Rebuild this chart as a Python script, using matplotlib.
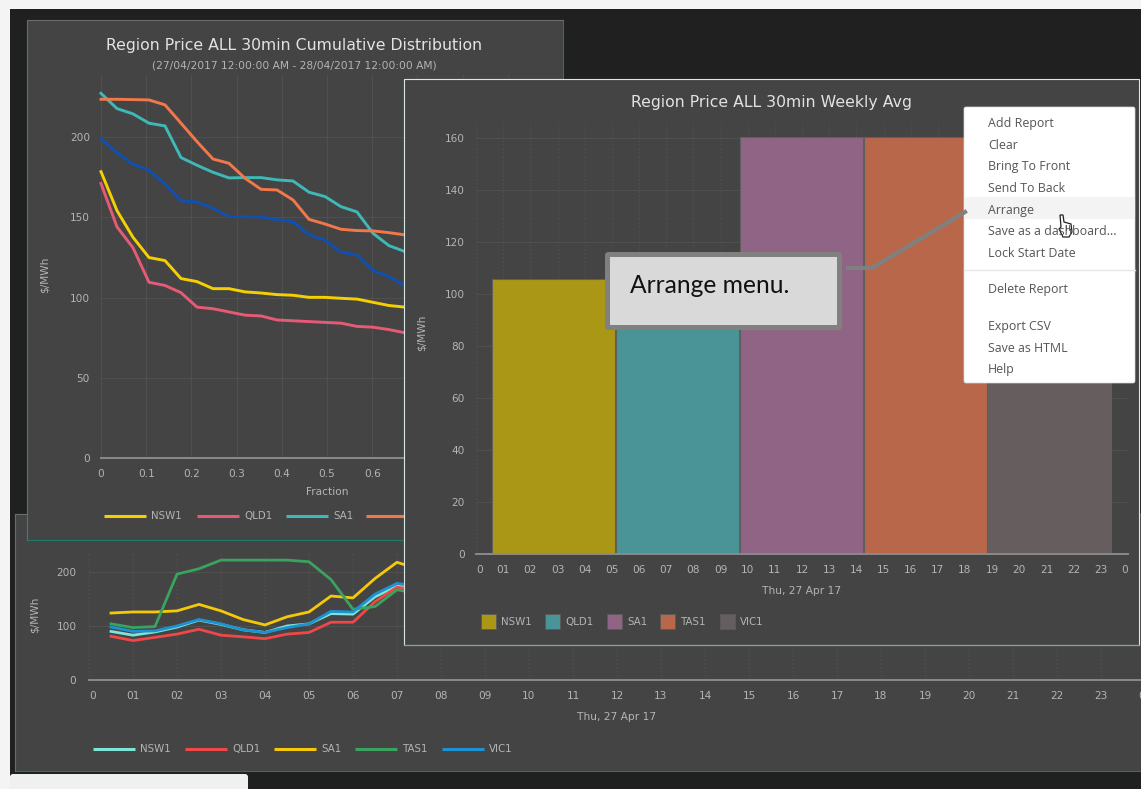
import matplotlib
matplotlib.use("Agg")
import matplotlib.pyplot as plt
from matplotlib.patches import Rectangle, FancyBboxPatch, Polygon

W, H = 1141, 789
PANEL = "#444444"
GRID = "#505050"
TICK = "#b4b4b4"
AXIS = "#8a8a8a"
TITLE = "#e2e2e2"
FONT = "DejaVu Sans"
plt.rcParams["font.family"] = FONT

# ---- cumulative distribution (panel 1)
frac_step = 0.0354
cd_nsw = [178.4, 154.1, 137.5, 124.9, 123, 111.8, 109.9, 105.5, 105.5, 103.5, 102.8, 101.8, 101.4, 100.1, 100.1, 99.5, 99, 97, 95, 94]
cd_qld = [171, 144, 131, 109.5, 107.5, 103, 94, 93, 91, 89, 88.5, 86, 85.5, 85, 84.5, 84, 82, 81.5, 80, 78]
cd_sa = [227.2, 217.7, 214.4, 208.6, 206.9, 187.2, 182.4, 178, 174.5, 174.7, 174.7, 173.3, 172.6, 165.6, 162.9, 156.6, 153.3, 140, 132.3, 128.6]
cd_tas = [223.5, 223.5, 223.3, 223.1, 220, 208.6, 197.1, 186.3, 183.6, 174.3, 167.4, 167, 160.8, 148.7, 145.8, 142.5, 141.7, 141.5, 140.4, 139]
cd_vic = [199, 190.3, 183, 179.3, 170.6, 160.2, 159.5, 155.6, 150.4, 150.4, 150.2, 148.5, 147.3, 139, 135.9, 128.2, 126.5, 116.8, 113, 107.2]

# ---- half-hourly prices (panel 3)
hours = [0.5, 1, 1.5, 2, 2.5, 3, 3.5, 4, 4.5, 5, 5.5, 6, 6.5, 7, 7.5]
hh_nsw = [90, 83, 89, 98, 111, 103, 93, 88, 100, 104, 123, 122, 154, 174, 170]
hh_qld = [81, 73, 79, 85, 94, 83, 80, 76.5, 85, 88, 107, 107, 145, 172, 165]
hh_sa = [124, 126, 126, 128, 140, 128, 112, 102, 117, 126, 155.5, 152, 188, 218, 205]
hh_tas = [104, 97, 99, 196, 206, 222, 222, 222, 222, 219, 186, 131, 136, 167, 160]
hh_vic = [98, 90, 91, 100, 112, 104, 93, 88, 97, 104, 127, 126, 159, 179, 172]

# ---- weekly average bars (panel 2)
regions = ["NSW1", "QLD1", "SA1", "TAS1", "VIC1"]
avg_prices = [105.6, 100, 160.5, 160.5, 100]
bar_colors = ["#ab9716", "#4a9498", "#8f6484", "#b8674a", "#665e5e"]
hour_labels = ["0"] + [f"{h:02d}" for h in range(1, 24)] + ["0"]

menu_items = [("Add Report", 123), ("Clear", 145), ("Bring To Front", 166), ("Send To Back", 188),
              ("Arrange", 210), ("Save as a dashboard...", 231), ("Lock Start Date", 253),
              ("Delete Report", 289), ("Export CSV", 326), ("Save as HTML", 348), ("Help", 369)]

fig = plt.figure(figsize=(W / 100, H / 100), dpi=100, facecolor="#f4f4f4")


def layer(z):
    a = fig.add_axes([0, 0, 1, 1], zorder=z, facecolor="none")
    a.set_xlim(0, W)
    a.set_ylim(H, 0)
    a.axis("off")
    return a


def chart(x0, y0, x1, y1, z):
    a = fig.add_axes([x0 / W, 1 - y1 / H, (x1 - x0) / W, (y1 - y0) / H], zorder=z, facecolor="none")
    for s in ["top", "right", "left"]:
        a.spines[s].set_visible(False)
    a.spines["bottom"].set_color(AXIS)
    a.spines["bottom"].set_linewidth(1.4)
    a.tick_params(length=0, labelsize=7.6, labelcolor=TICK, pad=8)
    a.set_axisbelow(True)
    return a


def panel(a, x0, y0, x1, y1, edge="#1f7a68", top="#6a6a6a"):
    a.add_patch(Rectangle((x0, y0), x1 - x0, y1 - y0, fc=PANEL, ec=edge, lw=0.8))
    a.plot([x0, x1], [y0, y0], color=top, lw=0.8)
    a.plot([x0, x0], [y0, y1], color=top, lw=0.8)


def line_legend(a, items, y):
    for (x, label, color) in items:
        a.plot([x, x + 42], [y, y], color=color, lw=2.2, solid_capstyle="butt")
        a.text(x + 47, y, label, color=TICK, fontsize=7.4, va="center", ha="left")


# background
bg = layer(0)
bg.add_patch(Rectangle((10, 9), W - 10, H - 9, fc="#202020", ec="none"))
bg.add_patch(FancyBboxPatch((10, 774), 238, 30, boxstyle="round,pad=0,rounding_size=3", fc="#f0f0f0", ec="none"))

# panel 3 (bottom, behind)
l3 = layer(1)
panel(l3, 15, 514, W + 5, 771)
l3.text(35, 615, "$/MWh", rotation=90, color=TICK, fontsize=7.6, ha="center", va="center")
l3.text(617, 717, "Thu, 27 Apr 17", color=TICK, fontsize=7.7, ha="center", va="center")
line_legend(l3, [(93, "NSW1", "#7fe3d6"), (185, "QLD1", "#f04848"), (274, "SA1", "#f5c907"),
                 (355, "TAS1", "#3aa35f"), (442, "VIC1", "#1d92d0")], 749)
ax3 = chart(89, 552, 1145, 680, 2)
ax3.set_xlim(0, 24)
ax3.set_ylim(0, 128 / 0.54)
ax3.set_xticks(range(25), hour_labels)
ax3.set_yticks([0, 100, 200])
ax3.tick_params(axis="y", pad=9)
ax3.grid(axis="y", color=GRID, lw=0.8)
ax3.grid(axis="x", color=GRID, lw=0.7, ls=(0, (2, 2)))
ax3.get_xticklabels()[0].set_ha("left")
ax3.get_xticklabels()[-1].set_ha("right")
for vals, col in [(hh_nsw, "#7fe3d6"), (hh_qld, "#f04848"), (hh_sa, "#f5c907"), (hh_tas, "#3aa35f"), (hh_vic, "#1d92d0")]:
    ax3.plot(hours, vals, color=col, lw=2)

# panel 1
l1 = layer(3)
panel(l1, 27, 20, 563, 540)
l1.text(294, 45, "Region Price ALL 30min Cumulative Distribution", color=TITLE, fontsize=11.3, ha="center", va="center")
l1.text(294, 65, "(27/04/2017 12:00:00 AM - 28/04/2017 12:00:00 AM)", color=TICK, fontsize=7.7, ha="center", va="center")
l1.text(45, 275, "$/MWh", rotation=90, color=TICK, fontsize=7.6, ha="center", va="center")
l1.text(327, 492, "Fraction", color=TICK, fontsize=7.6, ha="center", va="center")
line_legend(l1, [(104, "NSW1", "#f5d000"), (197, "QLD1", "#e65a75"), (286, "SA1", "#3fb8b8"), (366, "TAS1", "#f2784b")], 516)
ax1 = chart(101, 75, 553, 458, 4)
ax1.set_xlim(0, 1)
ax1.set_ylim(0, 383 / 1.605)
ax1.set_xticks([0, 0.1, 0.2, 0.3, 0.4, 0.5, 0.6, 0.7, 0.8, 0.9, 1.0], ["0", "0.1", "0.2", "0.3", "0.4", "0.5", "0.6", "0.7", "0.8", "0.9", "1"])
ax1.set_yticks([0, 50, 100, 150, 200])
ax1.tick_params(axis="y", pad=8)
ax1.grid(color=GRID, lw=0.7)
for vals, col in [(cd_nsw, "#f5d000"), (cd_qld, "#e65a75"), (cd_sa, "#3fb8b8"), (cd_tas, "#f2784b"), (cd_vic, "#0f50b0")]:
    ax1.plot([i * frac_step for i in range(len(vals))], vals, color=col, lw=2.1, clip_on=False)

# panel 2
l2 = layer(5)
l2.add_patch(Rectangle((403.5, 78.5), 735, 566, fc=PANEL, ec="#d8e8e4", lw=0.8))
l2.plot([403.5, 1138.5], [644.5, 644.5], color="#58b8a8", lw=0.8)
l2.text(771, 102, "Region Price ALL 30min Weekly Avg", color=TITLE, fontsize=11.3, ha="center", va="center")
l2.text(422, 333, "$/MWh", rotation=90, color=TICK, fontsize=7.6, ha="center", va="center")
l2.text(802, 591, "Thu, 27 Apr 17", color=TICK, fontsize=7.7, ha="center", va="center")
for x, label, col in zip([481, 545, 607, 660, 720], regions, bar_colors):
    l2.add_patch(Rectangle((x, 614), 15, 15, fc=col, ec="#5a5a5a", lw=0.6))
    l2.text(x + 20, 622, label, color=TICK, fontsize=7.4, ha="left", va="center")
ax2 = chart(476, 122, 1128, 553.5, 6)
ax2.set_xlim(0, 24)
ax2.set_ylim(0, 431.5 / 2.595)
ax2.set_xticks(range(25), hour_labels)
ax2.set_yticks(range(0, 161, 20))
ax2.grid(axis="y", color=GRID, lw=0.8)
ax2.grid(axis="x", color=GRID, lw=0.7, ls=(0, (2, 2)))
ax2.get_xticklabels()[0].set_ha("left")
ax2.get_xticklabels()[-1].set_ha("right")
centers = [0.57 + 4.565 * (i + 0.5) for i in range(len(regions))]
ax2.bar(centers, avg_prices, width=4.5, color=bar_colors, edgecolor="#5f5f5f", linewidth=0.8)

# annotation and context menu
top = layer(7)
top.add_patch(FancyBboxPatch((964, 107), 171, 276, boxstyle="round,pad=0,rounding_size=2", fc="white", ec="#d8d8d8", lw=0.5))
top.add_patch(Rectangle((964, 197), 171, 21.5, fc="#f3f3f3", ec="none"))
top.plot([964, 1134.5], [269.5, 269.5], color="#e6e6e6", lw=1)
for label, y in menu_items:
    top.text(988, y, label, color="#555555", fontsize=8.9, family="Open Sans", ha="left", va="center")
top.plot([848, 872, 965], [268, 268, 212], color="#808080", lw=3, solid_joinstyle="miter")
top.add_patch(FancyBboxPatch((607.5, 254.5), 232, 73, boxstyle="round,pad=0,rounding_size=1", fc="#d9d9d9", ec="#808080", lw=3.6))
top.text(630, 285, "Arrange menu.", color="#111111", fontsize=17.7, family="Lato", ha="left", va="center")
hand = [(1060, 215), (1063, 215), (1064, 222), (1071, 224), (1072, 232), (1069, 237), (1063, 237), (1059, 229), (1061, 227)]
top.add_patch(Polygon(hand, closed=True, fc="white", ec="#222222", lw=0.9))
top.plot([1066, 1066], [225, 230], color="#222222", lw=0.5)
top.plot([1069, 1069], [225, 230], color="#222222", lw=0.5)

fig.savefig("out.png", dpi=100, facecolor=fig.get_facecolor())
